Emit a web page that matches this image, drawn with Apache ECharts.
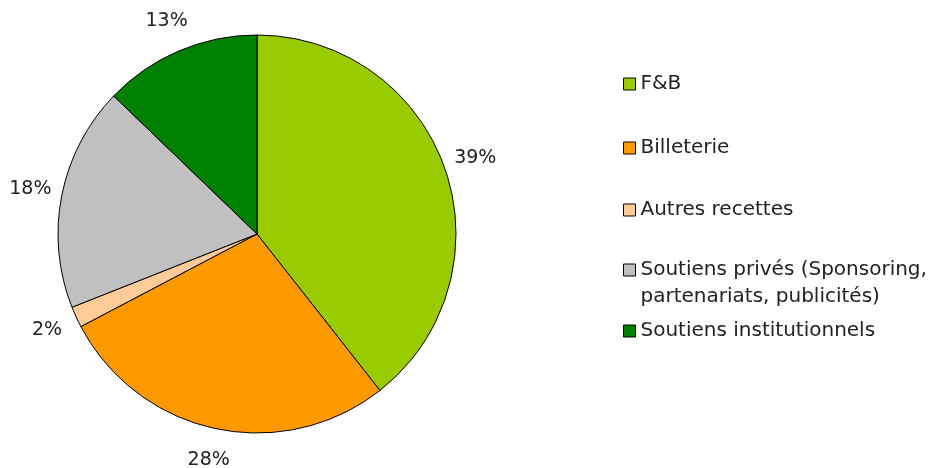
<!DOCTYPE html>
<html>
<head>
<meta charset="UTF-8">
<title>Répartition des recettes</title>
<script src="https://cdn.jsdelivr.net/npm/echarts@6/dist/echarts.min.js"></script>
<style>
	html, body { margin: 0; padding: 0; background: #fff; }
	#chart { width: 942px; height: 468px; }
</style>
</head>
<body>
<div id="chart"></div>
<script type="text/javascript">
	// données (parts en %, étiquettes arrondies)
	var categories = ['F&B', 'Billeterie', 'Autres recettes', 'Soutiens privés (Sponsoring, partenariats, publicités)', 'Soutiens institutionnels'];
	var shares = [39.4, 27.9, 1.7, 18.2, 12.8];

	var palette = ['#99CC00', '#FF9900', '#FFCC99', '#C0C0C0', '#008000'];
	var legendCenters = [84, 148, 210, 270, 331];
	var font = 'DejaVu Sans';

	var myChart = echarts.init(document.getElementById('chart'));

	var pieData = categories.map(function (name, i) {
		return { name: name, value: shares[i] };
	});

	// une légende par entrée pour garder l'espacement de l'original
	var legends = categories.map(function (name, i) {
		var twoLines = name.indexOf('(Sponsoring') >= 0;
		return {
			orient: 'vertical',
			left: 623,
			top: twoLines ? legendCenters[i] - 40.5 : legendCenters[i] - 12,
			padding: 0,
			itemWidth: 12,
			itemHeight: 12,
			itemGap: 0,
			icon: 'rect',
			selectedMode: false,
			data: [name],
			itemStyle: { borderColor: '#000', borderWidth: 1 },
			formatter: function (n) {
				if (n.indexOf('(Sponsoring, ') < 0) return n;
				// ligne vide en tête : le carré reste aligné sur la 1re ligne
				return '\n' + n.replace('(Sponsoring, ', '(Sponsoring,\n');
			},
			textStyle: {
				fontFamily: font,
				fontSize: 20,
				color: '#222',
				lineHeight: twoLines ? 27 : 24
			}
		};
	});

	var option = {
		animation: false,
		color: palette,
		legend: legends,
		series: [
			{
				type: 'pie',
				center: [257, 234],
				radius: [0, 199],
				startAngle: 90,
				clockwise: true,
				data: pieData,
				itemStyle: { borderColor: '#000', borderWidth: 1 },
				label: { show: false },
				labelLine: { show: false },
				emphasis: { disabled: true }
			},
			{
				// anneau invisible qui porte les étiquettes de pourcentage
				type: 'pie',
				center: [257, 234],
				radius: [220, 236],
				startAngle: 90,
				clockwise: true,
				silent: true,
				data: pieData,
				itemStyle: { color: 'rgba(0,0,0,0)', borderWidth: 0 },
				label: {
					show: true,
					position: 'inside',
					rotate: 0,
					formatter: function (p) { return Math.round(p.value) + '%'; },
					fontFamily: font,
					fontSize: 19,
					color: '#222'
				},
				labelLine: { show: false },
				emphasis: { disabled: true }
			}
		]
	};

	myChart.setOption(option);
	window.onresize = myChart.resize;
</script>
</body>
</html>
